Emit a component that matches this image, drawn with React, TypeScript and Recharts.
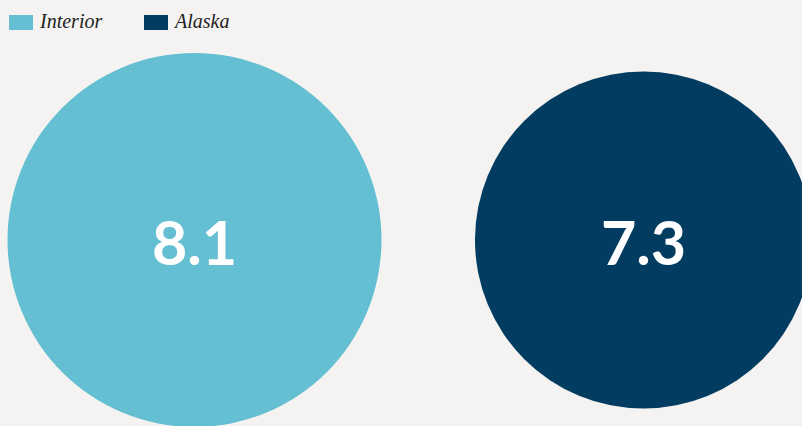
import { ScatterChart, Scatter, XAxis, YAxis, ZAxis, Legend } from "recharts";

const regions = ["Interior", "Alaska"];
const values = [8.1, 7.3];
const colors = ["#64bfd2", "#023d61"];

const series = regions.map((name, i) => ({
    name,
    color: colors[i],
    data: [{ name, value: values[i], y: 0 }],
}));

// bubble: radius comes from the z axis scale (size), value printed in the middle
const Bubble = (props: any) => {
    const { cx, cy, size, fill, payload } = props;
    if (cx == null || cy == null) return null;
    return (
        <g>
            <circle cx={cx} cy={cy} r={size} fill={fill} />
            <text
                x={cx}
                y={cy + 25}
                textAnchor="middle"
                fill="#ffffff"
                fontFamily="Lato, sans-serif"
                fontWeight={700}
                fontSize={61}
            >
                {payload.value}
            </text>
        </g>
    );
};

const LegendContent = () => (
    <div style={{ height: 30, display: "flex" }}>
        {series.map((s) => (
            <div key={s.name} style={{ width: 135, display: "flex", alignItems: "flex-end" }}>
                <span style={{ display: "inline-block", width: 24, height: 15, background: s.color }} />
                <span
                    style={{
                        marginLeft: 7,
                        fontFamily: "'Liberation Serif', serif",
                        fontStyle: "italic",
                        fontSize: 20,
                        lineHeight: "15px",
                        color: "#222",
                        position: "relative",
                        top: -1,
                    }}
                >
                    {s.name}
                </span>
            </div>
        ))}
    </div>
);

export default function App() {
    return (
        <div style={{ position: "absolute", left: 0, top: 0, width: 802, height: 426, background: "#f4f3f1" }}>
            <ScatterChart width={802} height={426} margin={{ top: 24, right: -66, bottom: 0, left: -30 }}>
                <XAxis dataKey="name" type="category" allowDuplicatedCategory={false} hide />
                <YAxis dataKey="y" type="number" domain={[-1, 1]} hide />
                <ZAxis dataKey="value" type="number" domain={[0, 8.1]} range={[0, 187]} />
                <Legend
                    verticalAlign="top"
                    align="left"
                    content={LegendContent}
                    wrapperStyle={{ top: 0, left: 9 }}
                />
                {series.map((s) => (
                    <Scatter
                        key={s.name}
                        name={s.name}
                        data={s.data}
                        fill={s.color}
                        shape={Bubble}
                        isAnimationActive={false}
                    />
                ))}
            </ScatterChart>
        </div>
    );
}
